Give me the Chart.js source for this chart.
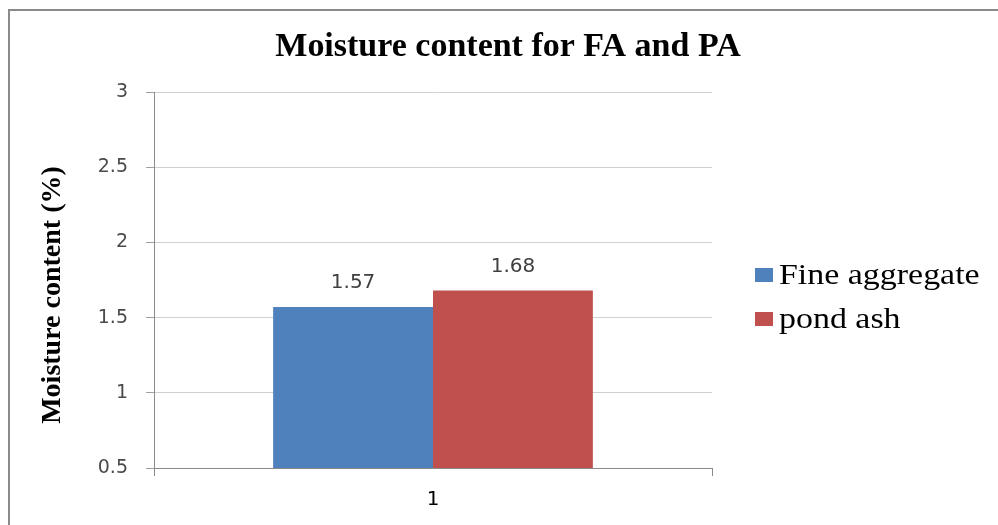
<!DOCTYPE html>
<html>
<head>
<meta charset="utf-8">
<script src="https://cdn.jsdelivr.net/npm/chart.js@4"></script>
<style>
  html, body { margin: 0; padding: 0; background: #fff; }
  #wrap { width: 998px; height: 525px; position: relative; }
</style>
</head>
<body>
<div id="wrap"><canvas id="c" width="998" height="525"></canvas></div>
<script>
// Moisture content of fine aggregate vs pond ash
const categories = ['1'];
const seriesNames = ['Fine aggregate', 'pond ash'];
const fineAggregate = [1.57];
const pondAsh = [1.68];
const seriesColors = ['#4F81BD', '#C0504D'];
const yTicks = [0.5, 1, 1.5, 2, 2.5, 3];

const chartTitle = 'Moisture content for FA and PA';
const yAxisTitle = 'Moisture content (%)';

// draws text stretched horizontally by sx
function stretchedText(ctx, text, x, y, sx) {
  ctx.save();
  ctx.translate(x, y);
  ctx.scale(sx, 1);
  ctx.fillText(text, 0, 0);
  ctx.restore();
}

const decorations = {
  id: 'decorations',
  afterDraw(chart) {
    const ctx = chart.ctx;
    ctx.save();

    // outer frame
    ctx.strokeStyle = '#8a8a8a';
    ctx.lineWidth = 2;
    ctx.strokeRect(9, 10, 1200, 800);

    // title
    ctx.fillStyle = '#000';
    ctx.font = 'bold 33px "Liberation Serif", serif';
    ctx.textAlign = 'center';
    ctx.textBaseline = 'alphabetic';
    stretchedText(ctx, chartTitle, 508, 56, 1.03);

    // y axis title
    ctx.save();
    ctx.translate(60, 295);
    ctx.rotate(-Math.PI / 2);
    ctx.font = 'bold 28px "Liberation Serif", serif';
    ctx.textAlign = 'center';
    ctx.textBaseline = 'alphabetic';
    ctx.fillText(yAxisTitle, 0, 0);
    ctx.restore();

    // value labels above bars
    ctx.font = '20px "DejaVu Sans", sans-serif';
    ctx.fillStyle = '#404040';
    ctx.textAlign = 'center';
    ctx.textBaseline = 'middle';
    chart.data.datasets.forEach((ds, i) => {
      const meta = chart.getDatasetMeta(i);
      meta.data.forEach((bar, j) => {
        ctx.fillText(String(ds.data[j]), bar.x, bar.y - 24);
      });
    });

    // legend
    const rowY = [275, 319];
    chart.data.datasets.forEach((ds, i) => {
      ctx.fillStyle = ds.backgroundColor;
      ctx.fillRect(755, rowY[i] - 7, 18, 14);
      ctx.fillStyle = '#000';
      ctx.font = '29px "Liberation Serif", serif';
      ctx.textAlign = 'left';
      ctx.textBaseline = 'middle';
      stretchedText(ctx, ds.label, 779, rowY[i] + 1, 1.17);
    });

    ctx.restore();
  }
};

new Chart(document.getElementById('c'), {
  type: 'bar',
  data: {
    labels: categories,
    datasets: [
      { label: seriesNames[0], data: fineAggregate, backgroundColor: seriesColors[0] },
      { label: seriesNames[1], data: pondAsh, backgroundColor: seriesColors[1] }
    ]
  },
  options: {
    responsive: false,
    animation: false,
    devicePixelRatio: 1,
    layout: { padding: { left: 0, right: 286, top: 92, bottom: 0 } },
    datasets: { bar: { barPercentage: 1, categoryPercentage: 0.573 } },
    plugins: {
      legend: { display: false },
      title: { display: false },
      tooltip: { enabled: false }
    },
    scales: {
      x: {
        grid: { drawOnChartArea: false, drawTicks: true, tickLength: 8, color: '#8a8a8a', offset: true },
        border: { display: true, color: '#8a8a8a', width: 1 },
        ticks: { color: '#000', font: { family: '"DejaVu Sans", sans-serif', size: 20 }, padding: 12 },
        afterFit(scale) { scale.height = 57; }
      },
      y: {
        min: 0.5,
        max: 3,
        afterBuildTicks(scale) { scale.ticks = yTicks.map(v => ({ value: v })); },
        grid: { color: '#d0d0d0', tickLength: 8, tickColor: '#a0a0a0' },
        border: { display: true, color: '#8a8a8a', width: 1 },
        ticks: {
          color: '#4a4a4a',
          font: { family: '"DejaVu Sans", sans-serif', size: 19 },
          padding: 18,
          callback: v => String(v)
        },
        afterFit(scale) { scale.width = 154; }
      }
    }
  },
  plugins: [decorations]
});
</script>
</body>
</html>
